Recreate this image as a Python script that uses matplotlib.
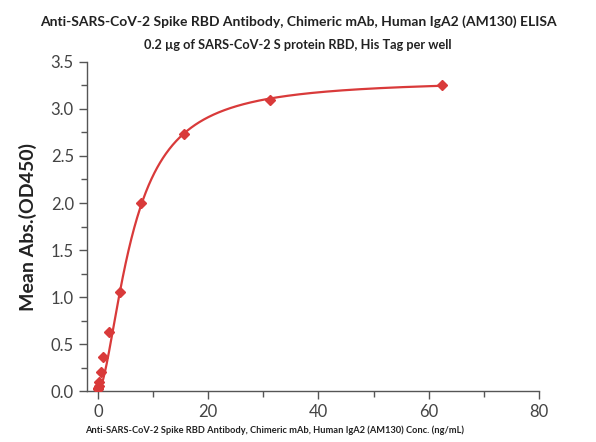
import numpy as np
import matplotlib
matplotlib.use("Agg")
import matplotlib.pyplot as plt
from matplotlib.ticker import MultipleLocator

conc = [62.5, 31.25, 15.625, 7.8125, 3.906, 1.953, 0.977, 0.488, 0.244, 0.122, 0.061, 0.031]
od = [3.25, 3.09, 2.73, 2.00, 1.05, 0.63, 0.36, 0.20, 0.10, 0.06, 0.03, 0.02]

# 4-parameter logistic fit parameters (estimated)
fit_bottom = 0.0
fit_top = 3.31
fit_ec50 = 6.2
fit_hill = 1.7

title = "Anti-SARS-CoV-2 Spike RBD Antibody, Chimeric mAb, Human IgA2 (AM130) ELISA"
subtitle = "0.2 \u00b5g of SARS-CoV-2 S protein RBD, His Tag per well"
xlabel = "Anti-SARS-CoV-2 Spike RBD Antibody, Chimeric mAb, Human IgA2 (AM130) Conc. (ng/mL)"
ylabel = "Mean Abs.(OD450)"

plt.rcParams['font.family'] = ['Lato', 'DejaVu Sans']
red = "#d93a3a"
grey = "#555555"

fig = plt.figure(figsize=(5.96, 4.42), dpi=100)
ax = fig.add_axes([0.146, 0.115, 0.758, 0.745])

xs = np.linspace(0, max(conc), 600)
ys = fit_bottom + (fit_top - fit_bottom) / (1 + (fit_ec50 / np.maximum(xs, 1e-9)) ** fit_hill)
ax.plot(xs, ys, color=red, lw=1.6, zorder=2)
ax.plot(conc, od, linestyle='none', marker='D', ms=5, color=red, zorder=3)

ax.set_xlim(-2, 80)
ax.set_ylim(0, 3.5)
ax.xaxis.set_minor_locator(MultipleLocator(10))
ax.set_xticks([0, 20, 40, 60, 80])
ax.yaxis.set_major_locator(MultipleLocator(0.5))
ax.yaxis.set_minor_locator(MultipleLocator(0.25))
ax.yaxis.set_major_formatter(matplotlib.ticker.FormatStrFormatter('%.1f'))

for s in ['top', 'right']:
    ax.spines[s].set_visible(False)
for s in ['left', 'bottom']:
    ax.spines[s].set_color(grey)
    ax.spines[s].set_linewidth(1.0)
ax.tick_params(which='major', direction='out', length=6, width=1, color=grey, labelsize=12, labelcolor='#444444')
ax.tick_params(which='minor', direction='out', length=4, width=1, color=grey)

fig.text(0.5, 0.95, title, ha='center', va='center', fontsize=10, fontweight='bold', color='#222222')
fig.text(0.5, 0.898, subtitle, ha='center', va='center', fontsize=9.2, fontweight='bold', color='#222222')
ax.set_xlabel(xlabel, fontsize=6.7, fontweight='bold', color='#222222', labelpad=3)
ax.xaxis.set_label_coords(0.414, -0.105)
ax.set_ylabel(ylabel, fontsize=14, fontweight='bold', color='#222222', labelpad=10)

fig.savefig("out.png", dpi=100)
